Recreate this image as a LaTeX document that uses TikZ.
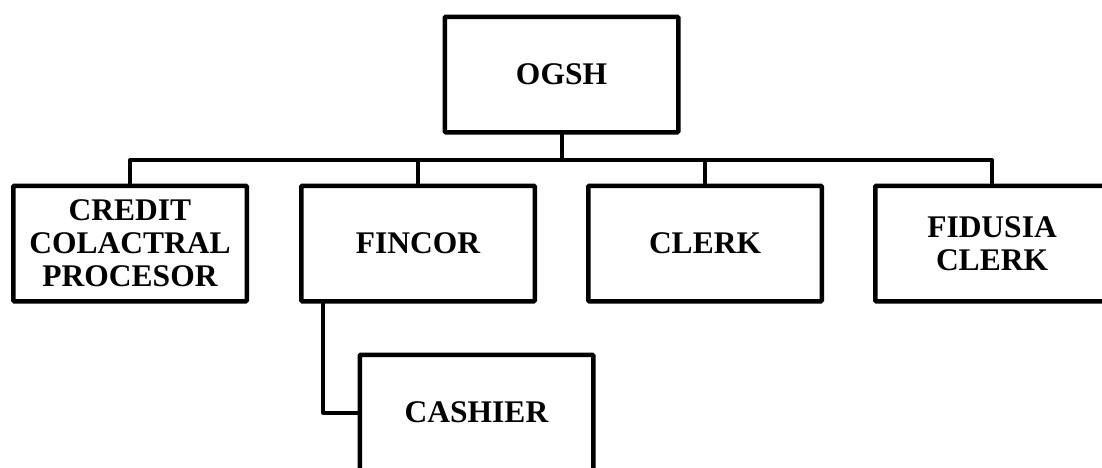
\documentclass[tikz,border=0pt]{standalone}
\usepackage{fontspec}
\setmainfont{Liberation Serif}
\begin{document}
\begin{tikzpicture}[x=1pt,y=1pt,
  box/.style={draw=black, line width=4.5pt, rounded corners=1pt, minimum width=233.5pt, minimum height=115.5pt,
    inner sep=0pt, outer sep=0pt, align=center, font=\fontsize{31.5}{33}\selectfont\bfseries},
  link/.style={draw=black, line width=4pt, line cap=round, line join=round}]
\useasboundingbox (0,0) rectangle (1102,-467);
\node[box] (ogsh) at (561.5,-74.5) {OGSH};
\node[box] (credit) at (130,-243.5) {CREDIT\\COLACTRAL\\PROCESOR};
\node[box] (fincor) at (418,-243.5) {FINCOR};
\node[box] (clerk) at (705,-243.5) {CLERK};
\node[box] (fidusia) at (992,-243.5) {FIDUSIA\\CLERK};
\node[box] (cashier) at (476.5,-412.5) {CASHIER};
\coordinate (bar) at (0,-160);
\draw[link] (ogsh.south) -- (ogsh.south |- bar);
\draw[link] (credit.north) -- (credit.north |- bar) -- (fidusia.north |- bar) -- (fidusia.north);
\draw[link] (fincor.north) -- (fincor.north |- bar);
\draw[link] (clerk.north) -- (clerk.north |- bar);
\draw[link] ([xshift=-95pt]fincor.south) |- (cashier.west);
\end{tikzpicture}
\end{document}
